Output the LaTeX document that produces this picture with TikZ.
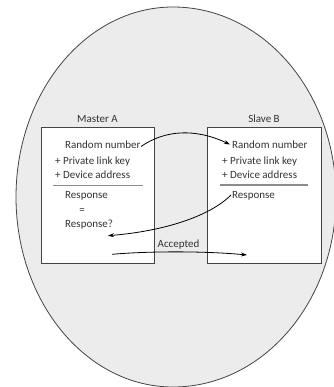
\documentclass[tikz,border=0pt]{standalone}
\usepackage{fontspec}
\setmainfont{Carlito}
\usetikzlibrary{arrows.meta}
\definecolor{zone}{HTML}{ECECEC}
\definecolor{edge}{HTML}{444444}
\definecolor{rule}{HTML}{8C8C8C}
\definecolor{ink}{HTML}{333333}
\begin{document}
\begin{tikzpicture}[x=1pt,y=-1pt,
  font=\fontsize{11}{13}\selectfont,
  box/.style={draw=edge,line width=1pt,fill=white,inner sep=0pt},
  txt/.style={anchor=base west,inner sep=0pt,text=ink},
  lbl/.style={anchor=base,inner sep=0pt,text=ink},
  divider/.style={draw=rule,line width=1.6pt},
  arr/.style={draw=black,line width=0.8pt,-{Stealth[length=6pt,width=4pt]}}]
\useasboundingbox (0,0) rectangle (333,387);
% piconet range: right half a little wider than the left
\draw[draw=edge,line width=0.8pt,fill=zone] (173,7)
  arc[start angle=-90,end angle=90,x radius=163,y radius=190]
  arc[start angle=90,end angle=270,x radius=157,y radius=190] -- cycle;
% devices
\node[box,minimum width=113,minimum height=135.6] (A) at (98.2,195.5) {};
\node[box,minimum width=114,minimum height=135.6] (B) at (264.7,195.5) {};
\node[lbl] (labA) at (97.5,122.3) {Master A};
\node[lbl] (labB) at (264,122.3) {Slave B};
% master side
\node[txt] (rnA) at (65,148.3) {Random number};
\node[txt] (pkA) at (55,164.3) {+ Private link key};
\node[txt] (daA) at (55,178.3) {+ Device address};
\draw[divider] (53,185.5) -- (143,185.5);
\node[txt] (reA) at (65,198.3) {Response};
\node[lbl] (eqA) at (82,213) {=};
\node[txt] (rqA) at (65,227.3) {Response?};
% slave side
\node[txt] (rnB) at (232,148.3) {Random number};
\node[txt] (pkB) at (222,164.3) {+ Private link key};
\node[txt] (daB) at (222,178.3) {+ Device address};
\draw[divider] (219.5,185) -- (308,185);
\node[txt] (reB) at (232,198.3) {Response};
% exchange
\coordinate (outA) at (141,146.5);
\coordinate (inB) at (230,144.5);
\coordinate (outB) at (231,195);
\coordinate (inA) at (108,235.7);
\coordinate (okA) at (112,254.3);
\coordinate (okB) at (247,255);
\draw[arr] (outA) .. controls (165,130) and (195,128) .. (inB);
\draw[arr] (outB) .. controls (210,216) and (165,231) .. (inA);
\draw[arr] (okA) .. controls (150,251) and (205,251) .. (okB);
\node[lbl] (acc) at (178.5,247) {Accepted};
\end{tikzpicture}
\end{document}
